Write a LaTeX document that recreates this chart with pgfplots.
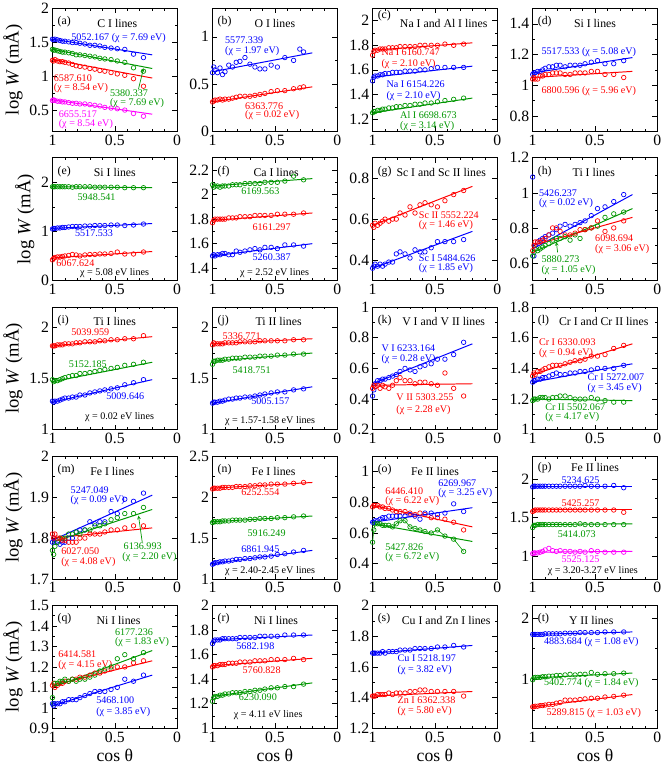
\documentclass[border=0pt]{standalone}
\usepackage{fontspec}
\setmainfont{Liberation Serif}
\usepackage{pgfplots}
\usepackage{pgfplotstable}
\usepgfplotslibrary{groupplots}
\pgfplotsset{compat=1.18}

\definecolor{pblue}{RGB}{0,0,255}
\definecolor{pred}{RGB}{255,0,0}
\definecolor{pgreen}{RGB}{0,150,0}
\definecolor{pmag}{RGB}{255,0,255}

\pgfplotsset{
  pts/.style={only marks, mark=o, mark size=2.3pt, mark options={line width=0.7pt}},
  fit/.style={line width=1pt, no marks},
}
\tikzset{lb/.style={font=\fontsize{10.3}{10.3}\selectfont, inner sep=0pt, anchor=west}}
\newcommand{\ttl}[3]{%
  \node[lb, black, font=\fontsize{12}{12}\selectfont] at (rel axis cs:0.04,0.89) {#1};
  \node[lb, black, font=\fontsize{12}{12}\selectfont, anchor=center] at (rel axis cs:#3,0.88) {#2};}

% panel (a) C I
\pgfplotstableread{
x b g r m
1.00 1.55 1.40 1.24 0.65
0.99 1.54 1.39 1.23 0.66
0.98 1.55 1.39 1.25 0.65
0.96 1.54 1.38 1.23 0.64
0.94 1.53 1.37 1.22 0.64
0.92 1.52 1.36 1.22 0.63
0.90 1.52 1.36 1.21 0.63
0.87 1.51 1.35 1.20 0.62
0.84 1.50 1.34 1.18 0.61
0.81 1.50 1.32 1.16 0.61
0.78 1.49 1.32 1.15 0.60
0.74 1.48 1.31 1.14 0.60
0.70 1.46 1.30 1.12 0.59
0.66 1.46 1.29 1.11 0.58
0.62 1.45 1.27 1.09 0.57
0.58 1.43 1.26 1.08 0.55
0.53 1.42 1.25 1.06 0.54
0.48 1.41 1.23 1.04 0.53
0.42 1.40 1.21 1.02 0.51
0.35 1.33 1.13 0.97 0.46
0.27 1.28 1.08 0.86 0.42
}\tabA
% panel (b) O I
\pgfplotstableread{
x b r
1.00 0.62 0.31
0.99 0.68 0.32
0.98 0.65 0.33
0.96 0.62 0.33
0.94 0.67 0.34
0.92 0.60 0.33
0.90 0.63 0.34
0.87 0.70 0.34
0.84 0.68 0.35
0.81 0.73 0.36
0.78 0.74 0.37
0.74 0.78 0.37
0.70 0.71 0.37
0.66 0.68 0.38
0.62 0.66 0.39
0.58 0.66 0.40
0.53 0.70 0.42
0.48 0.68 0.43
0.42 0.78 0.43
0.35 0.75 0.45
0.30 0.87 0.46
0.27 0.84 0.47
}\tabB
% panel (c) Na I, Al I
\pgfplotstableread{
x r b g
1.00 1.72 1.51 1.25
0.99 1.75 1.54 1.26
0.98 1.76 1.55 1.26
0.96 1.76 1.55 1.27
0.94 1.77 1.56 1.27
0.92 1.77 1.56 1.28
0.90 1.77 1.57 1.28
0.87 1.78 1.57 1.29
0.84 1.78 1.58 1.29
0.81 1.78 1.58 1.30
0.78 1.79 1.58 1.30
0.74 1.79 1.59 1.31
0.70 1.79 1.59 1.31
0.66 1.79 1.59 1.32
0.62 1.80 1.60 1.32
0.58 1.80 1.60 1.33
0.53 1.80 1.61 1.33
0.48 1.80 1.62 1.34
0.42 1.81 1.62 1.35
0.35 1.80 1.62 1.36
0.27 1.81 1.62 1.37
}\tabC
% panel (d) Si I
\pgfplotstableread{
x b r
1.00 1.07 1.04
0.99 1.08 1.05
0.98 1.08 1.04
0.96 1.09 1.04
0.94 1.09 1.06
0.92 1.10 1.06
0.90 1.11 1.07
0.87 1.12 1.07
0.84 1.12 1.08
0.81 1.13 1.08
0.78 1.13 1.08
0.74 1.12 1.07
0.70 1.13 1.07
0.66 1.13 1.08
0.62 1.13 1.08
0.58 1.14 1.08
0.53 1.15 1.09
0.48 1.16 1.09
0.42 1.14 1.07
0.35 1.14 1.07
0.27 1.16 1.05
}\tabD
% panel (e) Si I
\pgfplotstableread{
x g b r
1.00 1.91 1.05 0.42
0.99 1.91 1.06 0.45
0.98 1.91 1.06 0.47
0.96 1.91 1.07 0.48
0.94 1.91 1.07 0.48
0.92 1.91 1.08 0.49
0.90 1.91 1.08 0.50
0.87 1.91 1.09 0.51
0.84 1.90 1.10 0.53
0.81 1.91 1.10 0.52
0.78 1.91 1.10 0.50
0.74 1.91 1.11 0.52
0.70 1.91 1.11 0.53
0.66 1.90 1.12 0.53
0.62 1.90 1.12 0.54
0.58 1.90 1.12 0.54
0.53 1.90 1.13 0.55
0.48 1.90 1.13 0.58
0.42 1.89 1.12 0.54
0.35 1.89 1.13 0.54
0.27 1.89 1.15 0.58
}\tabE
% panel (f) Ca I
\pgfplotstableread{
x g r b
1.00 2.08 1.77 1.50
0.99 2.06 1.79 1.51
0.98 2.07 1.80 1.50
0.96 2.07 1.80 1.51
0.94 2.06 1.80 1.51
0.92 2.07 1.80 1.52
0.90 2.07 1.80 1.52
0.87 2.07 1.81 1.51
0.84 2.08 1.81 1.51
0.81 2.08 1.81 1.54
0.78 2.08 1.82 1.53
0.74 2.09 1.82 1.54
0.70 2.09 1.82 1.55
0.66 2.09 1.83 1.56
0.62 2.09 1.83 1.55
0.58 2.10 1.83 1.57
0.53 2.10 1.83 1.57
0.48 2.10 1.84 1.56
0.42 2.11 1.84 1.59
0.35 2.15 1.84 1.59
0.27 2.12 1.85 1.58
}\tabF
% panel (g) Sc I, Sc II
\pgfplotstableread{
x r b
1.00 0.57 0.36
0.99 0.56 0.37
0.98 0.58 0.38
0.96 0.57 0.37
0.94 0.58 0.38
0.92 0.59 0.37
0.90 0.60 0.38
0.87 0.59 0.39
0.84 0.60 0.39
0.81 0.60 0.43
0.78 0.63 0.44
0.74 0.62 0.43
0.70 0.66 0.41
0.66 0.63 0.45
0.62 0.67 0.44
0.58 0.68 0.44
0.53 0.67 0.46
0.48 0.66 0.49
0.42 0.69 0.49
0.35 0.72 0.49
0.27 0.74 0.50
}\tabG
% panel (h) Ti I
\pgfplotstableread{
x b g r
1.00 1.09 0.64 0.67
0.99 0.64 0.66 0.70
0.98 0.70 0.68 0.72
0.96 0.72 0.67 0.72
0.94 0.73 0.68 0.72
0.92 0.74 0.69 0.73
0.90 0.75 0.70 0.74
0.87 0.76 0.71 0.76
0.84 0.77 0.73 0.80
0.81 0.79 0.74 0.80
0.78 0.81 0.74 0.78
0.74 0.82 0.75 0.76
0.70 0.81 0.73 0.76
0.66 0.82 0.76 0.77
0.62 0.83 0.74 0.79
0.58 0.84 0.79 0.79
0.53 0.87 0.80 0.80
0.48 0.91 0.81 0.84
0.42 0.92 0.86 0.78
0.35 0.95 0.88 0.80
0.27 0.99 0.89 0.84
}\tabH
% panel (i) Ti I
\pgfplotstableread{
x r g b
1.00 1.82 1.49 1.28
0.99 1.82 1.47 1.27
0.98 1.82 1.48 1.28
0.96 1.83 1.48 1.28
0.94 1.83 1.49 1.29
0.92 1.83 1.50 1.30
0.90 1.84 1.51 1.31
0.87 1.84 1.52 1.31
0.84 1.84 1.53 1.32
0.81 1.85 1.53 1.32
0.78 1.85 1.55 1.34
0.74 1.86 1.55 1.34
0.70 1.86 1.56 1.36
0.66 1.86 1.57 1.37
0.62 1.87 1.58 1.38
0.58 1.87 1.59 1.39
0.53 1.88 1.60 1.40
0.48 1.88 1.61 1.41
0.42 1.89 1.63 1.44
0.35 1.89 1.64 1.46
0.27 1.92 1.66 1.49
}\tabI
% panel (j) Ti II
\pgfplotstableread{
x r g b
1.00 1.83 1.64 1.26
0.99 1.85 1.67 1.27
0.98 1.84 1.67 1.27
0.96 1.84 1.68 1.27
0.94 1.84 1.68 1.28
0.92 1.84 1.68 1.28
0.90 1.85 1.69 1.29
0.87 1.85 1.69 1.30
0.84 1.85 1.70 1.30
0.81 1.85 1.70 1.31
0.78 1.86 1.70 1.31
0.74 1.86 1.71 1.32
0.70 1.86 1.71 1.32
0.66 1.86 1.71 1.33
0.62 1.87 1.72 1.34
0.58 1.87 1.72 1.35
0.53 1.87 1.72 1.36
0.48 1.87 1.73 1.37
0.42 1.87 1.73 1.37
0.35 1.88 1.74 1.39
0.27 1.88 1.74 1.40
}\tabJ
% panel (k) V I, V II
\pgfplotstableread{
x b r
1.00 0.42 0.47
0.99 0.46 0.49
0.98 0.50 0.48
0.96 0.52 0.49
0.94 0.52 0.47
0.92 0.53 0.49
0.90 0.53 0.48
0.87 0.54 0.47
0.84 0.55 0.49
0.81 0.56 0.52
0.78 0.58 0.54
0.74 0.60 0.52
0.70 0.59 0.52
0.66 0.58 0.50
0.62 0.61 0.51
0.58 0.62 0.51
0.53 0.63 0.50
0.48 0.66 0.49
0.42 0.66 0.57
0.35 0.69 0.47
0.27 0.77 0.42
}\tabK
% panel (l) Cr I, Cr II
\pgfplotstableread{
x r b g
1.00 1.35 1.31 1.19
0.99 1.37 1.32 1.20
0.98 1.36 1.32 1.20
0.96 1.38 1.33 1.20
0.94 1.38 1.33 1.21
0.92 1.39 1.34 1.21
0.90 1.40 1.34 1.21
0.87 1.41 1.35 1.20
0.84 1.42 1.36 1.21
0.81 1.42 1.37 1.21
0.78 1.42 1.36 1.22
0.74 1.43 1.36 1.22
0.70 1.44 1.37 1.21
0.66 1.45 1.37 1.20
0.62 1.45 1.38 1.20
0.58 1.46 1.38 1.20
0.53 1.48 1.39 1.21
0.48 1.48 1.40 1.20
0.42 1.49 1.40 1.19
0.35 1.53 1.40 1.18
0.27 1.55 1.42 1.18
}\tabL
% panel (m) Fe I
\pgfplotstableread{
x b g r
1.00 1.79 1.77 1.81
0.99 1.80 1.76 1.80
0.98 1.79 1.78 1.81
0.96 1.79 1.79 1.80
0.94 1.785 1.80 1.80
0.92 1.79 1.80 1.795
0.90 1.79 1.80 1.795
0.87 1.80 1.81 1.79
0.84 1.80 1.81 1.79
0.81 1.815 1.815 1.79
0.78 1.82 1.81 1.80
0.74 1.82 1.82 1.80
0.70 1.84 1.82 1.81
0.66 1.835 1.83 1.81
0.62 1.84 1.83 1.81
0.58 1.84 1.835 1.815
0.53 1.865 1.845 1.82
0.48 1.86 1.85 1.82
0.42 1.895 1.86 1.825
0.35 1.89 1.86 1.83
0.27 1.91 1.875 1.83
}\tabM
% panel (n) Fe I
\pgfplotstableread{
x r g b
1.00 2.10 1.69 1.18
0.99 2.11 1.70 1.19
0.98 2.11 1.70 1.20
0.96 2.11 1.70 1.20
0.94 2.11 1.70 1.21
0.92 2.12 1.71 1.21
0.90 2.12 1.71 1.22
0.87 2.12 1.71 1.22
0.84 2.12 1.72 1.23
0.81 2.13 1.72 1.24
0.78 2.13 1.72 1.24
0.74 2.13 1.72 1.25
0.70 2.14 1.73 1.25
0.66 2.14 1.73 1.26
0.62 2.15 1.74 1.27
0.58 2.15 1.74 1.27
0.53 2.16 1.74 1.28
0.48 2.16 1.75 1.30
0.42 2.16 1.75 1.31
0.35 2.17 1.76 1.33
0.27 2.18 1.77 1.35
}\tabN
% panel (o) Fe II
\pgfplotstableread{
x r b g
1.00 0.77 0.67 0.54
0.99 0.78 0.67 0.62
0.98 0.78 0.68 0.66
0.96 0.78 0.68 0.66
0.94 0.77 0.69 0.66
0.92 0.77 0.70 0.65
0.90 0.76 0.70 0.65
0.87 0.76 0.71 0.65
0.84 0.75 0.71 0.64
0.81 0.74 0.71 0.66
0.78 0.74 0.71 0.68
0.74 0.74 0.71 0.68
0.70 0.73 0.72 0.64
0.66 0.72 0.71 0.63
0.62 0.73 0.69 0.62
0.58 0.72 0.73 0.61
0.53 0.70 0.73 0.60
0.48 0.70 0.72 0.62
0.42 0.69 0.73 0.58
0.35 0.67 0.79 0.56
0.27 0.62 0.74 0.48
}\tabO
% panel (p) Fe II
\pgfplotstableread{
x b r g m
1.00 1.90 1.58 1.37 1.03
0.99 1.91 1.59 1.40 1.04
0.98 1.91 1.60 1.40 1.04
0.96 1.91 1.60 1.41 1.04
0.94 1.91 1.60 1.41 1.05
0.92 1.91 1.60 1.41 1.06
0.90 1.91 1.60 1.41 1.08
0.87 1.91 1.60 1.41 1.10
0.84 1.91 1.60 1.41 1.07
0.81 1.91 1.60 1.41 1.06
0.78 1.91 1.60 1.41 1.07
0.74 1.91 1.60 1.41 1.06
0.70 1.91 1.60 1.41 1.06
0.66 1.91 1.60 1.41 1.05
0.62 1.91 1.60 1.42 1.06
0.58 1.92 1.60 1.41 1.05
0.53 1.91 1.60 1.41 1.07
0.48 1.91 1.60 1.41 1.06
0.42 1.91 1.60 1.41 1.05
0.35 1.92 1.60 1.41 1.05
0.27 1.89 1.57 1.41 1.05
}\tabP
% panel (q) Ni I
\pgfplotstableread{
x r g b
1.00 1.11 1.05 1.02
0.99 1.12 1.02 1.01
0.98 1.10 1.12 1.02
0.96 1.11 1.12 1.02
0.94 1.12 1.13 1.02
0.92 1.12 1.13 1.03
0.90 1.13 1.14 1.03
0.87 1.13 1.13 1.04
0.84 1.14 1.14 1.04
0.81 1.14 1.13 1.04
0.78 1.15 1.14 1.05
0.74 1.15 1.14 1.06
0.70 1.16 1.15 1.07
0.66 1.17 1.16 1.08
0.62 1.17 1.18 1.08
0.58 1.18 1.19 1.08
0.53 1.19 1.20 1.09
0.48 1.20 1.24 1.10
0.42 1.20 1.26 1.14
0.35 1.22 1.24 1.13
0.27 1.23 1.27 1.16
}\tabQ
% panel (r) Ni I
\pgfplotstableread{
x b r g
1.00 1.69 1.50 1.22
0.99 1.71 1.51 1.25
0.98 1.72 1.51 1.26
0.96 1.72 1.51 1.26
0.94 1.72 1.52 1.27
0.92 1.73 1.52 1.27
0.90 1.73 1.52 1.28
0.87 1.73 1.53 1.28
0.84 1.73 1.53 1.29
0.81 1.73 1.53 1.29
0.78 1.74 1.54 1.29
0.74 1.74 1.54 1.30
0.70 1.74 1.54 1.30
0.66 1.74 1.55 1.31
0.62 1.75 1.55 1.31
0.58 1.75 1.55 1.32
0.53 1.75 1.56 1.33
0.48 1.75 1.56 1.33
0.42 1.76 1.56 1.34
0.35 1.76 1.57 1.34
0.27 1.76 1.56 1.36
}\tabR
% panel (s) Cu I, Zn I
\pgfplotstableread{
x b r
1.00 1.69 1.41
0.99 1.69 1.41
0.98 1.69 1.41
0.96 1.69 1.42
0.94 1.69 1.42
0.92 1.70 1.42
0.90 1.69 1.42
0.87 1.70 1.43
0.84 1.70 1.42
0.81 1.70 1.43
0.78 1.71 1.43
0.74 1.71 1.43
0.70 1.71 1.44
0.66 1.72 1.44
0.62 1.72 1.45
0.58 1.72 1.45
0.53 1.72 1.44
0.48 1.73 1.44
0.42 1.73 1.44
0.35 1.74 1.44
0.27 1.73 1.41
}\tabS
% panel (t) Y II
\pgfplotstableread{
x b g r
1.00 1.73 0.99 0.55
0.99 1.73 1.02 0.55
0.98 1.73 1.03 0.56
0.96 1.73 1.03 0.56
0.94 1.73 1.03 0.57
0.92 1.73 1.04 0.57
0.90 1.74 1.04 0.58
0.87 1.74 1.05 0.59
0.84 1.74 1.05 0.59
0.81 1.74 1.06 0.61
0.78 1.74 1.06 0.62
0.74 1.75 1.07 0.66
0.70 1.75 1.08 0.66
0.66 1.75 1.07 0.66
0.62 1.76 1.08 0.67
0.58 1.76 1.08 0.68
0.53 1.76 1.11 0.69
0.48 1.76 1.08 0.69
0.42 1.77 1.09 0.71
0.35 1.77 1.09 0.72
0.27 1.77 1.10 0.74
}\tabT

\begin{document}
\begin{tikzpicture}
\begin{groupplot}[
  group style={group size=4 by 5, horizontal sep=36pt, vertical sep=27pt},
  scale only axis, width=127pt, height=125pt,
  xmin=0, xmax=1, x dir=reverse, xtick={0,0.5,1},
  minor x tick num=4, minor y tick num=1,
  tick label style={font=\fontsize{16}{16}\selectfont},
  /pgf/number format/assume math mode=true,
  major tick length=5pt, minor tick length=2.5pt,
  axis line style={line width=0.8pt},
  every tick/.style={line width=0.6pt, black},
  ylabel style={font=\fontsize{19}{19}\selectfont},
  xlabel style={font=\fontsize{18}{18}\selectfont},
]
% (a)
\nextgroupplot[ymin=0.2, ymax=2, ytick={0.5,1,1.5,2}, ylabel={log \textit{W} (mÅ)}]
\addplot[pts, pblue] table[y=b] {\tabA};
\addplot[pts, pgreen] table[y=g] {\tabA};
\addplot[pts, pred] table[y=r] {\tabA};
\addplot[pts, pmag] table[y=m] {\tabA};
\addplot[fit, pblue] coordinates {(1,1.55) (0.2,1.32)};
\addplot[fit, pgreen] coordinates {(1,1.40) (0.2,1.12)};
\addplot[fit, pred] coordinates {(1,1.25) (0.2,0.98)};
\addplot[fit, pmag] coordinates {(1,0.66) (0.2,0.45)};
\ttl{(a)}{C I lines}{0.52}
\node[lb, pblue] at (axis cs:0.85,1.57) {5052.167 (χ = 7.69 eV)};
\node[lb, pred] at (axis cs:0.99,0.98) {6587.610};
\node[lb, pred] at (axis cs:0.99,0.84) {(χ = 8.54 eV)};
\node[lb, pgreen] at (axis cs:0.54,0.76) {5380.337};
\node[lb, pgreen] at (axis cs:0.54,0.61) {(χ = 7.69 eV)};
\draw[pgreen, line width=0.7pt, -stealth] (axis cs:0.31,0.82) -- (axis cs:0.27,1.12);
\node[lb, pmag] at (axis cs:0.95,0.45) {6655.517};
\node[lb, pmag] at (axis cs:0.95,0.30) {(χ = 8.54 eV)};
% (b)
\nextgroupplot[ymin=0, ymax=1.3, ytick={0,0.5,1}]
\addplot[pts, pblue] table[y=b] {\tabB};
\addplot[pts, pred] table[y=r] {\tabB};
\addplot[fit, pblue] coordinates {(1,0.63) (0.2,0.83)};
\addplot[fit, pred] coordinates {(1,0.31) (0.2,0.47)};
\ttl{(b)}{O I lines}{0.5}
\node[lb, pblue] at (axis cs:0.9,0.96) {5577.339};
\node[lb, pblue] at (axis cs:0.9,0.85) {(χ = 1.97 eV)};
\node[lb, pred] at (axis cs:0.74,0.27) {6363.776};
\node[lb, pred] at (axis cs:0.74,0.17) {(χ = 0.02 eV)};
% (c)
\nextgroupplot[ymin=1.1, ymax=2.1, ytick={1.2,1.4,1.6,1.8,2}]
\addplot[pts, pred] table[y=r] {\tabC};
\addplot[pts, pblue] table[y=b] {\tabC};
\addplot[pts, pgreen] table[y=g] {\tabC};
\addplot[fit, pred] coordinates {(1,1.76) (0.2,1.82)};
\addplot[fit, pblue] coordinates {(1,1.54) (0.2,1.63)};
\addplot[fit, pgreen] coordinates {(1,1.25) (0.2,1.37)};
\node[lb, black, font=\fontsize{12}{12}\selectfont] at (rel axis cs:0.04,0.94) {(c)};
\node[lb, black, font=\fontsize{12}{12}\selectfont, anchor=center] at (rel axis cs:0.57,0.88) {Na I and Al I lines};
\node[lb, pred] at (axis cs:0.93,1.74) {Na I 6160.747};
\node[lb, pred] at (axis cs:0.93,1.65) {(χ = 2.10 eV)};
\node[lb, pblue] at (axis cs:0.89,1.48) {Na I 6154.226};
\node[lb, pblue] at (axis cs:0.89,1.39) {(χ = 2.10 eV)};
\node[lb, pgreen] at (axis cs:0.78,1.235) {Al I 6698.673};
\node[lb, pgreen] at (axis cs:0.78,1.145) {(χ = 3.14 eV)};
% (d)
\nextgroupplot[ymin=0.7, ymax=1.5, ytick={0.8,1,1.2,1.4}]
\addplot[pts, pblue] table[y=b] {\tabD};
\addplot[pts, pred] table[y=r] {\tabD};
\addplot[fit, pblue] coordinates {(1,1.08) (0.2,1.18)};
\addplot[fit, pred] coordinates {(1,1.05) (0.2,1.09)};
\ttl{(d)}{Si I lines}{0.5}
\node[lb, pblue] at (axis cs:0.93,1.215) {5517.533 (χ = 5.08 eV)};
\node[lb, pred] at (axis cs:0.93,0.96) {6800.596 (χ = 5.96 eV)};
% (e)
\nextgroupplot[ymin=0, ymax=2.5, ytick={0,1,2}, ylabel={log \textit{W} (mÅ)}]
\addplot[pts, pgreen] table[y=g] {\tabE};
\addplot[pts, pblue] table[y=b] {\tabE};
\addplot[pts, pred] table[y=r] {\tabE};
\addplot[fit, pgreen] coordinates {(1,1.91) (0.2,1.89)};
\addplot[fit, pblue] coordinates {(1,1.06) (0.2,1.16)};
\addplot[fit, pred] coordinates {(1,0.46) (0.2,0.59)};
\ttl{(e)}{Si I lines}{0.5}
\node[lb, pgreen] at (axis cs:0.8,1.70) {5948.541};
\node[lb, pblue] at (axis cs:0.82,0.97) {5517.533};
\node[lb, pred] at (axis cs:0.97,0.35) {6067.624};
\node[lb, black] at (axis cs:0.78,0.15) {χ = 5.08 eV lines};
% (f)
\nextgroupplot[ymin=1.3, ymax=2.3, ytick={1.4,1.6,1.8,2,2.2}]
\addplot[pts, pgreen] table[y=g] {\tabF};
\addplot[pts, pred] table[y=r] {\tabF};
\addplot[pts, pblue] table[y=b] {\tabF};
\addplot[fit, pgreen] coordinates {(1,2.07) (0.2,2.13)};
\addplot[fit, pred] coordinates {(1,1.79) (0.2,1.85)};
\addplot[fit, pblue] coordinates {(1,1.50) (0.2,1.60)};
\ttl{(f)}{Ca I lines}{0.51}
\node[lb, pgreen] at (axis cs:0.77,2.03) {6169.563};
\node[lb, pred] at (axis cs:0.68,1.73) {6161.297};
\node[lb, pblue] at (axis cs:0.68,1.49) {5260.387};
\node[lb, black] at (axis cs:0.78,1.36) {χ = 2.52 eV lines};
% (g)
\nextgroupplot[ymin=0.3, ymax=0.9, ytick={0.4,0.6,0.8}]
\addplot[pts, pred] table[y=r] {\tabG};
\addplot[pts, pblue] table[y=b] {\tabG};
\addplot[fit, pred] coordinates {(1,0.57) (0.2,0.76)};
\addplot[fit, pblue] coordinates {(1,0.36) (0.2,0.54)};
\ttl{(g)}{Sc I and Sc II lines}{0.55}
\node[lb, pred] at (axis cs:0.63,0.62) {Sc II 5552.224};
\node[lb, pred] at (axis cs:0.63,0.57) {(χ = 1.46 eV)};
\node[lb, pblue] at (axis cs:0.63,0.41) {Sc I 5484.626};
\node[lb, pblue] at (axis cs:0.63,0.36) {(χ = 1.85 eV)};
% (h)
\nextgroupplot[ymin=0.5, ymax=1.2, ytick={0.6,0.8,1,1.2}]
\addplot[pts, pblue] table[y=b] {\tabH};
\addplot[pts, pgreen] table[y=g] {\tabH};
\addplot[pts, pred] table[y=r] {\tabH};
\addplot[fit, pblue] coordinates {(1,0.68) (0.2,0.99)};
\addplot[fit, pgreen] coordinates {(1,0.66) (0.2,0.91)};
\addplot[fit, pred] coordinates {(1,0.70) (0.2,0.86)};
\ttl{(h)}{Ti I lines}{0.49}
\node[lb, pblue] at (axis cs:0.95,1.0) {5426.237};
\node[lb, pblue] at (axis cs:0.95,0.94) {(χ = 0.02 eV)};
\node[lb, pred] at (axis cs:0.5,0.74) {6098.694};
\node[lb, pred] at (axis cs:0.5,0.68) {(χ = 3.06 eV)};
\node[lb, pgreen] at (axis cs:0.93,0.62) {5880.273};
\node[lb, pgreen] at (axis cs:0.93,0.56) {(χ = 1.05 eV)};
\draw[pgreen, line width=0.7pt, -stealth] (axis cs:0.80,0.66) -- (axis cs:0.81,0.72);
% (i)
\nextgroupplot[ymin=1, ymax=2.2, ytick={1,1.5,2}, ylabel={log \textit{W} (mÅ)}]
\addplot[pts, pred] table[y=r] {\tabI};
\addplot[pts, pgreen] table[y=g] {\tabI};
\addplot[pts, pblue] table[y=b] {\tabI};
\addplot[fit, pred] coordinates {(1,1.82) (0.2,1.91)};
\addplot[fit, pgreen] coordinates {(1,1.47) (0.2,1.66)};
\addplot[fit, pblue] coordinates {(1,1.27) (0.2,1.49)};
\ttl{(i)}{Ti I lines}{0.5}
\node[lb, pred] at (axis cs:0.85,1.95) {5039.959};
\node[lb, pgreen] at (axis cs:0.87,1.64) {5152.185};
\node[lb, pblue] at (axis cs:0.57,1.33) {5009.646};
\node[lb, black] at (axis cs:0.74,1.12) {χ = 0.02 eV lines};
% (j)
\nextgroupplot[ymin=1, ymax=2.2, ytick={1,1.5,2}]
\addplot[pts, pred] table[y=r] {\tabJ};
\addplot[pts, pgreen] table[y=g] {\tabJ};
\addplot[pts, pblue] table[y=b] {\tabJ};
\addplot[fit, pred] coordinates {(1,1.84) (0.2,1.89)};
\addplot[fit, pgreen] coordinates {(1,1.67) (0.2,1.75)};
\addplot[fit, pblue] coordinates {(1,1.26) (0.2,1.42)};
\ttl{(j)}{Ti II lines}{0.53}
\node[lb, pred] at (axis cs:0.92,1.91) {5336.771};
\node[lb, pgreen] at (axis cs:0.84,1.58) {5418.751};
\node[lb, pblue] at (axis cs:0.69,1.28) {5005.157};
\node[lb, black] at (axis cs:0.90,1.09) {χ = 1.57-1.58 eV lines};
% (k)
\nextgroupplot[ymin=0.2, ymax=1, ytick={0.2,0.4,0.6,0.8,1}]
\addplot[pts, pblue] table[y=b] {\tabK};
\addplot[pts, pred] table[y=r] {\tabK};
\addplot[fit, pblue] coordinates {(1,0.50) (0.2,0.76)};
\addplot[fit, pred] coordinates {(1,0.49) (0.2,0.50)};
\ttl{(k)}{V I and V II lines}{0.57}
\node[lb, pblue] at (axis cs:0.93,0.73) {V I 6233.164};
\node[lb, pblue] at (axis cs:0.93,0.66) {(χ = 0.28 eV)};
\node[lb, pred] at (axis cs:0.81,0.41) {V II 5303.255};
\node[lb, pred] at (axis cs:0.81,0.33) {(χ = 2.28 eV)};
% (l)
\nextgroupplot[ymin=1, ymax=1.8, ytick={1,1.2,1.4,1.6,1.8}]
\addplot[pts, pred] table[y=r] {\tabL};
\addplot[pts, pblue] table[y=b] {\tabL};
\addplot[pts, pgreen] table[y=g] {\tabL};
\addplot[fit, pred] coordinates {(1,1.36) (0.2,1.56)};
\addplot[fit, pblue] coordinates {(1,1.31) (0.2,1.43)};
\addplot[fit, pgreen] coordinates {(1,1.20) (0.2,1.19)};
\ttl{(l)}{Cr I and Cr II lines}{0.57}
\node[lb, pred] at (axis cs:0.95,1.57) {Cr I 6330.093};
\node[lb, pred] at (axis cs:0.95,1.50) {(χ = 0.94 eV)};
\node[lb, pblue] at (axis cs:0.56,1.34) {Cr I 5272.007};
\node[lb, pblue] at (axis cs:0.56,1.27) {(χ = 3.45 eV)};
\node[lb, pgreen] at (axis cs:0.9,1.15) {Cr II 5502.067};
\node[lb, pgreen] at (axis cs:0.9,1.08) {(χ = 4.17 eV)};
% (m)
\nextgroupplot[ymin=1.7, ymax=2, ytick={1.7,1.8,1.9,2}, ylabel={log \textit{W} (mÅ)}]
\addplot[pts, pblue] table[y=b] {\tabM};
\addplot[pts, pgreen] table[y=g] {\tabM};
\addplot[pts, pred] table[y=r] {\tabM};
\addplot[fit, pblue] coordinates {(1,1.795) (0.2,1.905)};
\addplot[fit, pgreen] coordinates {(1,1.79) (0.2,1.87)};
\addplot[fit, pred] coordinates {(1,1.80) (0.2,1.825)};
\ttl{(m)}{Fe I lines}{0.48}
\node[lb, pblue] at (axis cs:0.855,1.918) {5247.049};
\node[lb, pblue] at (axis cs:0.855,1.892) {(χ = 0.09 eV)};
\node[lb, pred] at (axis cs:0.93,1.768) {6027.050};
\node[lb, pred] at (axis cs:0.93,1.742) {(χ = 4.08 eV)};
\node[lb, pgreen] at (axis cs:0.43,1.78) {6136.993};
\node[lb, pgreen] at (axis cs:0.44,1.754) {(χ = 2.20 eV)};
\draw[pgreen, line width=0.7pt, -stealth] (axis cs:0.28,1.79) -- (axis cs:0.31,1.855);
% (n)
\nextgroupplot[ymin=1, ymax=2.5, ytick={1,1.5,2,2.5}]
\addplot[pts, pred] table[y=r] {\tabN};
\addplot[pts, pgreen] table[y=g] {\tabN};
\addplot[pts, pblue] table[y=b] {\tabN};
\addplot[fit, pred] coordinates {(1,2.11) (0.2,2.18)};
\addplot[fit, pgreen] coordinates {(1,1.70) (0.2,1.77)};
\addplot[fit, pblue] coordinates {(1,1.19) (0.2,1.35)};
\ttl{(n)}{Fe I lines}{0.49}
\node[lb, pred] at (axis cs:0.77,2.06) {6252.554};
\node[lb, pgreen] at (axis cs:0.72,1.56) {5916.249};
\node[lb, pblue] at (axis cs:0.77,1.37) {6861.945};
\node[lb, black] at (axis cs:0.9,1.10) {χ = 2.40-2.45 eV lines};
% (o)
\nextgroupplot[ymin=0.3, ymax=1.1, ytick={0.4,0.6,0.8,1}]
\addplot[pts, pred] table[y=r] {\tabO};
\addplot[pts, pblue] table[y=b] {\tabO};
\addplot[pgreen, mark=o, mark size=2.3pt, line width=0.6pt, mark options={line width=0.7pt}] table[y=g] {\tabO};
\addplot[fit, pred] coordinates {(1,0.78) (0.2,0.64)};
\addplot[fit, pblue] coordinates {(1,0.67) (0.2,0.765)};
\addplot[fit, pgreen] coordinates {(1,0.66) (0.2,0.545)};
\ttl{(o)}{Fe II lines}{0.5}
\node[lb, pred] at (axis cs:0.9,0.875) {6446.410};
\node[lb, pred] at (axis cs:0.9,0.81) {(χ = 6.22 eV)};
\node[lb, pblue] at (axis cs:0.475,0.925) {6269.967};
\node[lb, pblue] at (axis cs:0.475,0.86) {(χ = 3.25 eV)};
\node[lb, pgreen] at (axis cs:0.9,0.51) {5427.826};
\node[lb, pgreen] at (axis cs:0.9,0.44) {(χ = 6.72 eV)};
% (p)
\nextgroupplot[ymin=0.7, ymax=2.3, ytick={1,1.5,2}]
\addplot[pts, pblue] table[y=b] {\tabP};
\addplot[pts, pred] table[y=r] {\tabP};
\addplot[pts, pgreen] table[y=g] {\tabP};
\addplot[pts, pmag] table[y=m] {\tabP};
\addplot[fit, pblue] coordinates {(1,1.91) (0.2,1.91)};
\addplot[fit, pred] coordinates {(1,1.60) (0.2,1.60)};
\addplot[fit, pgreen] coordinates {(1,1.41) (0.2,1.42)};
\addplot[fit, pmag] coordinates {(1,1.05) (0.2,1.06)};
\node[lb, black, font=\fontsize{12}{12}\selectfont] at (rel axis cs:0.04,0.91) {(p)};
\node[lb, black, font=\fontsize{12}{12}\selectfont, anchor=center] at (rel axis cs:0.5,0.91) {Fe II lines};
\node[lb, pblue] at (axis cs:0.77,1.99) {5234.625};
\node[lb, pred] at (axis cs:0.77,1.69) {5425.257};
\node[lb, pgreen] at (axis cs:0.8,1.28) {5414.073};
\node[lb, pmag] at (axis cs:0.77,0.96) {5525.125};
\node[lb, black] at (axis cs:0.88,0.80) {χ = 3.20-3.27 eV lines};
% (q)
\nextgroupplot[ymin=0.9, ymax=1.5, ytick={0.9,1,1.1,1.2,1.3,1.4,1.5}, ylabel={log \textit{W} (mÅ)}, xlabel={cos θ}]
\addplot[pts, pred] table[y=r] {\tabQ};
\addplot[pts, pgreen] table[y=g] {\tabQ};
\addplot[pts, pblue] table[y=b] {\tabQ};
\addplot[fit, pred] coordinates {(1,1.11) (0.2,1.23)};
\addplot[fit, pgreen] coordinates {(1,1.10) (0.2,1.28)};
\addplot[fit, pblue] coordinates {(1,1.01) (0.2,1.16)};
\ttl{(q)}{Ni I lines}{0.53}
\node[lb, pred] at (axis cs:0.955,1.26) {6414.581};
\node[lb, pred] at (axis cs:0.955,1.21) {(χ = 4.15 eV)};
\node[lb, pgreen] at (axis cs:0.5,1.37) {6177.236};
\node[lb, pgreen] at (axis cs:0.5,1.32) {(χ = 1.83 eV)};
\node[lb, pblue] at (axis cs:0.65,1.035) {5468.100};
\node[lb, pblue] at (axis cs:0.65,0.98) {(χ = 3.85 eV)};
% (r)
\nextgroupplot[ymin=1, ymax=2, ytick={1,1.2,1.4,1.6,1.8,2}, xlabel={cos θ}]
\addplot[pts, pblue] table[y=b] {\tabR};
\addplot[pts, pred] table[y=r] {\tabR};
\addplot[pts, pgreen] table[y=g] {\tabR};
\addplot[fit, pblue] coordinates {(1,1.72) (0.2,1.76)};
\addplot[fit, pred] coordinates {(1,1.51) (0.2,1.57)};
\addplot[fit, pgreen] coordinates {(1,1.26) (0.2,1.37)};
\ttl{(r)}{Ni I lines}{0.51}
\node[lb, pblue] at (axis cs:0.81,1.67) {5682.198};
\node[lb, pred] at (axis cs:0.76,1.47) {5760.828};
\node[lb, pgreen] at (axis cs:0.79,1.25) {6230.090};
\node[lb, black] at (axis cs:0.83,1.11) {χ = 4.11 eV lines};
% (s)
\nextgroupplot[ymin=1.2, ymax=2, ytick={1.2,1.4,1.6,1.8,2}, xlabel={cos θ}]
\addplot[pts, pblue] table[y=b] {\tabS};
\addplot[pts, pred] table[y=r] {\tabS};
\addplot[fit, pblue] coordinates {(1,1.69) (0.2,1.74)};
\addplot[fit, pred] coordinates {(1,1.41) (0.2,1.44)};
\ttl{(s)}{Cu I and Zn I lines}{0.59}
\node[lb, pblue] at (axis cs:0.8,1.655) {Cu I 5218.197};
\node[lb, pblue] at (axis cs:0.8,1.58) {(χ = 3.82 eV)};
\node[lb, pred] at (axis cs:0.8,1.38) {Zn I 6362.338};
\node[lb, pred] at (axis cs:0.8,1.31) {(χ = 5.80 eV)};
% (t)
\nextgroupplot[ymin=0.2, ymax=2.2, ytick={1,2}, minor ytick={0.5,1.5}, xlabel={cos θ}]
\addplot[pts, pblue] table[y=b] {\tabT};
\addplot[pts, pgreen] table[y=g] {\tabT};
\addplot[pts, pred] table[y=r] {\tabT};
\addplot[fit, pblue] coordinates {(1,1.73) (0.2,1.77)};
\addplot[fit, pgreen] coordinates {(1,1.02) (0.2,1.10)};
\addplot[fit, pred] coordinates {(1,0.55) (0.2,0.75)};
\ttl{(t)}{Y II lines}{0.47}
\node[lb, pblue] at (axis cs:0.91,1.6) {4883.684 (χ = 1.08 eV)};
\node[lb, pgreen] at (axis cs:0.91,0.93) {5402.774 (χ = 1.84 eV)};
\node[lb, pred] at (axis cs:0.89,0.45) {5289.815 (χ = 1.03 eV)};
\end{groupplot}
\end{tikzpicture}
\end{document}
